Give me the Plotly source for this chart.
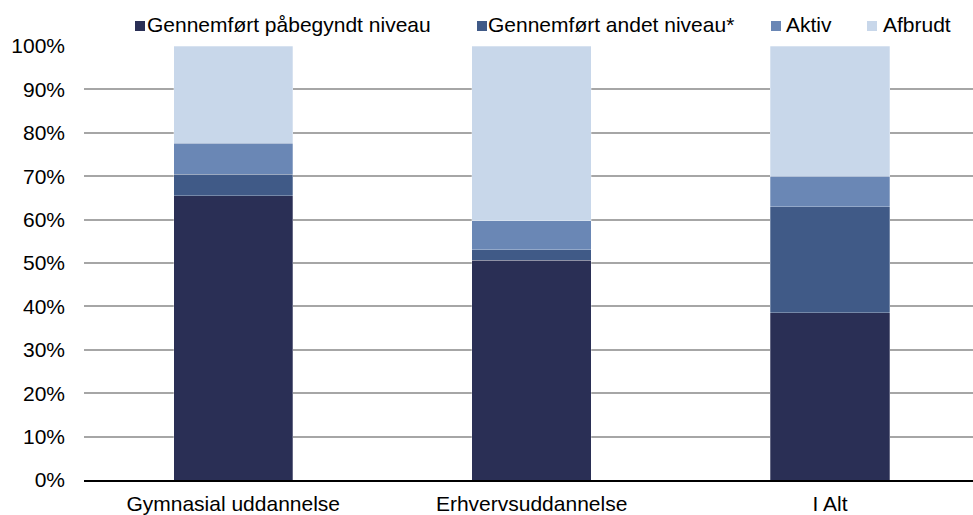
import plotly.graph_objects as go

categories = ["Gymnasial uddannelse", "Erhvervsuddannelse", "I Alt"]
series_names = ["Gennemført påbegyndt niveau", "Gennemført andet niveau*", "Aktiv", "Afbrudt"]
gennemfort_pabegyndt = [0.655, 0.506, 0.385]
gennemfort_andet = [0.050, 0.025, 0.245]
aktiv = [0.071, 0.066, 0.070]
afbrudt = [0.224, 0.403, 0.300]
colors = ["#2A2F55", "#405A87", "#6A87B5", "#C8D7EA"]
y_ticks = [0, 0.1, 0.2, 0.3, 0.4, 0.5, 0.6, 0.7, 0.8, 0.9, 1.0]

FONT = "Liberation Sans, Arial, sans-serif"
W, H = 973, 515
L, R, T, B = 84, 0, 46, 35
PW, PH = W - L - R, H - T - B

fig = go.Figure()
for name, vals, col in zip(series_names, [gennemfort_pabegyndt, gennemfort_andet, aktiv, afbrudt], colors):
    fig.add_trace(go.Bar(x=categories, y=vals, name=name, showlegend=False,
                         marker=dict(color=col, line=dict(color="rgba(255,255,255,0.35)", width=0.8)),
                         width=0.4))

# custom legend (compact square + text, as in reference)
legend_sq_px = [135, 477, 771, 867]
legend_txt_px = [145, 486, 784, 881]
shapes, annos = [], []
for name, col, sq, tx in zip(series_names, colors, legend_sq_px, legend_txt_px):
    shapes.append(dict(type="rect", xref="paper", yref="paper",
                       x0=(sq - L) / PW, x1=(sq + 10 - L) / PW,
                       y0=1 + (T - 31) / PH, y1=1 + (T - 21) / PH,
                       fillcolor=col, line=dict(width=0)))
    annos.append(dict(text=name, xref="paper", yref="paper", x=(tx - L) / PW, y=1 + (T - 24) / PH,
                      xanchor="left", yanchor="middle", showarrow=False,
                      font=dict(family=FONT, size=21, color="#000000")))

fig.update_layout(
    barmode="stack",
    width=W, height=H,
    margin=dict(l=L, r=R, t=T, b=B, autoexpand=False),
    plot_bgcolor="white", paper_bgcolor="white",
    font=dict(family=FONT, size=21, color="#000000"),
    showlegend=False,
    shapes=shapes, annotations=annos,
)
fig.update_yaxes(range=[0, 1.0], tickvals=y_ticks, tickformat=".0%", showgrid=True,
                 gridcolor="#A6A6A6", gridwidth=1.5, zeroline=False, showline=False,
                 ticklabelstandoff=18)
fig.update_xaxes(range=[-0.5, 2.479], showline=True, linecolor="#000000", linewidth=2, showgrid=False,
                 ticklabelstandoff=4)
fig.write_html("out.html", config={"displayModeBar": False},
               post_script="document.body.style.margin='0';document.body.style.overflow='hidden';")
